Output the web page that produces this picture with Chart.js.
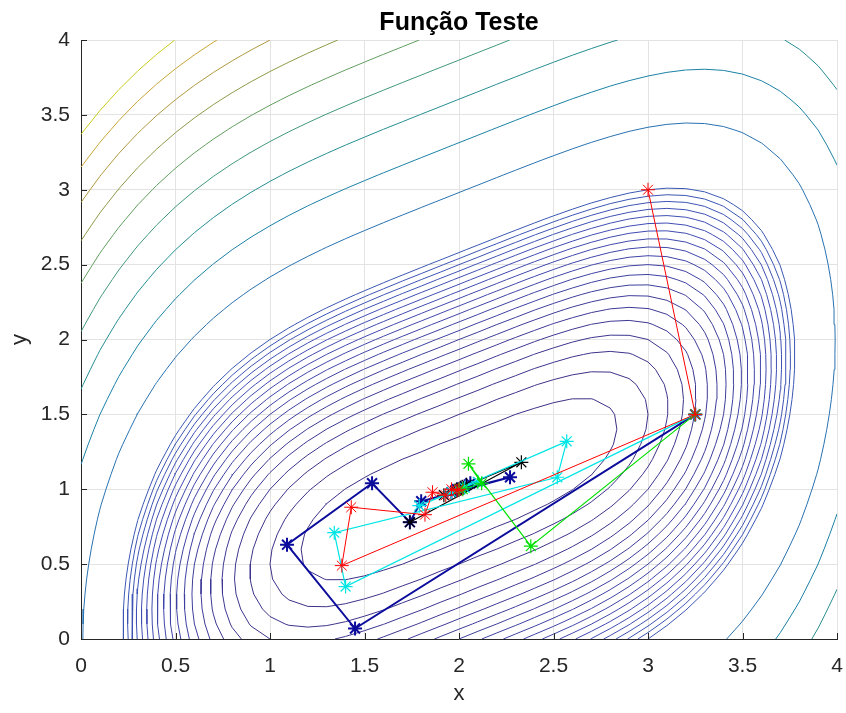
<!DOCTYPE html>
<html>
<head>
<meta charset="utf-8">
<title>Função Teste</title>
<script src="https://cdn.jsdelivr.net/npm/chart.js@4.4.1/dist/chart.umd.min.js"></script>
<style>
  html, body { margin: 0; padding: 0; background: #fff; overflow: hidden; }
  #wrap { width: 846px; height: 713px; position: relative; }
  #chart { display: block; }
</style>
</head>
<body>
<div id="wrap"><canvas id="chart"></canvas></div>
<script>
/* ================= DATA ================= */
// contour levels (dense inner set + sparse outer set)
const innerLevels = [0.5, 1, 1.5, 2, 2.5, 3, 3.5, 4, 4.5, 5, 5.5, 6, 6.5, 7, 7.5, 8, 8.5, 9, 9.5, 10];
const outerLevels = [15.71, 21.43, 27.14, 32.86, 38.57, 44.29, 50, 55.71, 61.43];

// field behind the contours: the "Função Teste", sampled on a 0.1 grid
const gridX = [0, 0.1, 0.2, 0.3, 0.4, 0.5, 0.6, 0.7, 0.8, 0.9, 1, 1.1, 1.2, 1.3, 1.4, 1.5, 1.6, 1.7, 1.8, 1.9, 2,
               2.1, 2.2, 2.3, 2.4, 2.5, 2.6, 2.7, 2.8, 2.9, 3, 3.1, 3.2, 3.3, 3.4, 3.5, 3.6, 3.7, 3.8, 3.9, 4];
const gridY = gridX.slice();
function testFn(x, y) { return Math.pow(x - 2, 4) + Math.pow(x - 2 * y, 2); }

// iterate paths (one per method)
const redX   = [3, 3.25, 1.38, 1.43, 1.82, 1.86, 1.93, 1.96, 1.99, 2.0];
const redY   = [3, 1.5, 0.49, 0.88, 0.83, 0.98, 0.96, 1.0, 0.99, 1.0];
const greenX = [3.25, 2.38, 2.05, 2.12, 2.02, 2.0];
const greenY = [1.5, 0.62, 1.17, 1.04, 1.0, 1.0];
const cyanX  = [3.25, 1.40, 1.34, 2.52, 2.57, 1.79, 2.10, 1.96, 2.03, 2.0];
const cyanY  = [1.5, 0.35, 0.71, 1.08, 1.32, 0.89, 1.05, 0.98, 1.01, 1.0];
const blackX = [1.74, 2.33, 1.92, 2.04, 1.98, 2.01, 2.0];
const blackY = [0.78, 1.18, 0.96, 1.03, 0.99, 1.01, 1.0];
const blueX  = [3.25, 1.45, 1.09, 1.54, 1.74, 1.80, 2.27, 1.96, 2.06, 1.99, 2.03, 2.0];
const blueY  = [1.5, 0.07, 0.63, 1.04, 0.78, 0.92, 1.08, 0.98, 1.04, 1.0, 1.02, 1.0];

const xTicks = [0, 0.5, 1, 1.5, 2, 2.5, 3, 3.5, 4];
const yTicks = [0, 0.5, 1, 1.5, 2, 2.5, 3, 3.5, 4];

/* ================= PARULA ================= */
const parula = [
  [0.2422, 0.1504, 0.6603], [0.2760, 0.3560, 0.9750], [0.1300, 0.5700, 0.9300],
  [0.0250, 0.6850, 0.8200], [0.2000, 0.7600, 0.6200], [0.4400, 0.8000, 0.4100],
  [0.7400, 0.7600, 0.2400], [0.9900, 0.7400, 0.2400], [0.9763, 0.9831, 0.0538]
];
// thin antialiased lines in the reference read darker / greyer than pure parula
const lineShade = [55, 55, 70];
function parulaColor(t) {
  t = Math.max(0, Math.min(1, t));
  const p = t * (parula.length - 1);
  const i = Math.min(parula.length - 2, Math.floor(p));
  const f = p - i;
  const mix = 0.25 + 0.15 * (1 - t);   // inner (low) levels look the darkest
  const c = parula[i].map((v, k) => {
    const pure = 255 * (v + (parula[i + 1][k] - v) * f);
    return Math.round(pure * (1 - mix) + lineShade[k] * mix);
  });
  return `rgb(${c[0]},${c[1]},${c[2]})`;
}

/* ================= CONTOURS (marching squares) ================= */
const Z = gridY.map(y => gridX.map(x => testFn(x, y)));

function contourSegments(level) {
  const segs = [];
  for (let j = 0; j < gridY.length - 1; j++) {
    for (let i = 0; i < gridX.length - 1; i++) {
      const x0 = gridX[i], x1 = gridX[i + 1], y0 = gridY[j], y1 = gridY[j + 1];
      const a = Z[j][i], b = Z[j][i + 1], c = Z[j + 1][i + 1], d = Z[j + 1][i];
      const pts = [];
      if ((a < level) !== (b < level)) pts.push([x0 + (level - a) / (b - a) * (x1 - x0), y0]);
      if ((b < level) !== (c < level)) pts.push([x1, y0 + (level - b) / (c - b) * (y1 - y0)]);
      if ((d < level) !== (c < level)) pts.push([x0 + (level - d) / (c - d) * (x1 - x0), y1]);
      if ((a < level) !== (d < level)) pts.push([x0, y0 + (level - a) / (d - a) * (y1 - y0)]);
      if (pts.length === 2) segs.push([pts[0], pts[1]]);
      else if (pts.length === 4) {
        const center = (a + b + c + d) / 4;
        if ((center < level) === (a < level)) { segs.push([pts[0], pts[1]]); segs.push([pts[2], pts[3]]); }
        else { segs.push([pts[0], pts[3]]); segs.push([pts[1], pts[2]]); }
      }
    }
  }
  return segs;
}

function chainSegments(segs) {
  const key = p => p[0].toFixed(9) + ',' + p[1].toFixed(9);
  const map = new Map();
  segs.forEach((s, k) => s.forEach(p => {
    const kk = key(p);
    if (!map.has(kk)) map.set(kk, []);
    map.get(kk).push(k);
  }));
  const used = new Array(segs.length).fill(false);
  const extend = line => {
    for (;;) {
      const last = line[line.length - 1];
      const lk = key(last);
      const next = (map.get(lk) || []).find(m => !used[m]);
      if (next === undefined) break;
      used[next] = true;
      const s = segs[next];
      line.push(key(s[0]) === lk ? s[1] : s[0]);
    }
  };
  const lines = [];
  segs.forEach((s, k) => {
    if (used[k]) return;
    used[k] = true;
    const line = [s[0], s[1]];
    extend(line);
    line.reverse();
    extend(line);
    lines.push(line);
  });
  return lines;
}

function contourData(level) {
  const out = [];
  chainSegments(contourSegments(level)).forEach(line => {
    line.forEach(p => out.push({ x: p[0], y: p[1] }));
    out.push({ x: null, y: null });
  });
  return out;
}

const allLevels = innerLevels.concat(outerLevels);
const cMax = Math.max(...allLevels);

const contourSets = allLevels.map(lv => ({
  data: contourData(lv),
  showLine: true,
  spanGaps: false,
  borderColor: parulaColor(lv / cMax),
  borderWidth: 1,
  pointRadius: 0,
  pointHoverRadius: 0,
  tension: 0
}));

function pathSet(xs, ys, color, width) {
  return {
    data: xs.map((x, i) => ({ x, y: ys[i] })),
    showLine: true,
    borderColor: color,
    borderWidth: width,
    pointStyle: 'star',
    pointRadius: 7,
    pointBorderColor: color,
    pointBackgroundColor: color,
    pointBorderWidth: width,
    tension: 0
  };
}

/* ================= PLUGINS ================= */
const inwardTicks = {
  id: 'inwardTicks',
  afterDatasetsDraw(chart) {
    const { ctx, chartArea, scales } = chart;
    ctx.save();
    ctx.strokeStyle = '#262626';
    ctx.lineWidth = 1;
    ctx.beginPath();
    xTicks.forEach(v => {
      const px = Math.round(scales.x.getPixelForValue(v)) + 0.5;
      ctx.moveTo(px, chartArea.bottom);
      ctx.lineTo(px, chartArea.bottom - 6);
    });
    yTicks.forEach(v => {
      const py = Math.round(scales.y.getPixelForValue(v)) + 0.5;
      ctx.moveTo(chartArea.left, py);
      ctx.lineTo(chartArea.left + 6, py);
    });
    ctx.stroke();
    ctx.restore();
  }
};

/* ================= CHART ================= */
const fontFamily = 'Liberation Sans, Arial, Helvetica, sans-serif';
const tickFont = { family: fontFamily, size: 21 };
const tickLabel = v => String(Math.round(v * 10) / 10);

new Chart(document.getElementById('chart'), {
  type: 'scatter',
  data: {
    datasets: [
      pathSet(redX, redY, '#ff0000', 1),
      pathSet(greenX, greenY, '#00e000', 1.2),
      pathSet(cyanX, cyanY, '#00e5e5', 1.2),
      pathSet(blackX, blackY, '#000000', 1.2),
      pathSet(blueX, blueY, '#0c0c9c', 2)
    ].concat(contourSets.reverse())
  },
  options: {
    responsive: true,
    maintainAspectRatio: false,
    animation: false,
    events: [],
    layout: { padding: 0 },
    plugins: {
      legend: { display: false },
      tooltip: { enabled: false },
      title: {
        display: true,
        text: 'Função Teste',
        fullSize: false,
        color: '#000',
        font: { family: fontFamily, size: 25, weight: 'bold', lineHeight: 1.2 },
        padding: { top: 8, bottom: 2 }
      }
    },
    scales: {
      x: {
        type: 'linear',
        min: 0, max: 4,
        afterFit: s => { s.height = 74; s.paddingLeft = 0; s.paddingRight = 4; },
        afterBuildTicks: s => { s.ticks = xTicks.map(v => ({ value: v })); },
        ticks: { color: '#262626', font: tickFont, padding: 15, maxRotation: 0, callback: tickLabel },
        grid: { color: '#e3e3e3', drawTicks: false },
        border: { color: '#262626', width: 1 },
        title: { display: true, text: 'x', color: '#262626', font: { family: fontFamily, size: 22 }, padding: { top: 6, bottom: 6 } }
      },
      y: {
        type: 'linear',
        min: 0, max: 4,
        afterFit: s => { s.width = 81; s.paddingTop = 0; s.paddingBottom = 0; },
        afterBuildTicks: s => { s.ticks = yTicks.map(v => ({ value: v })); },
        ticks: { color: '#262626', font: tickFont, padding: 11, callback: tickLabel },
        grid: { color: '#e3e3e3', drawTicks: false },
        border: { color: '#262626', width: 1 },
        title: { display: true, text: 'y', color: '#262626', font: { family: fontFamily, size: 22 }, padding: { top: 7, bottom: 7 } }
      }
    }
  },
  plugins: [inwardTicks]
});
</script>
</body>
</html>
